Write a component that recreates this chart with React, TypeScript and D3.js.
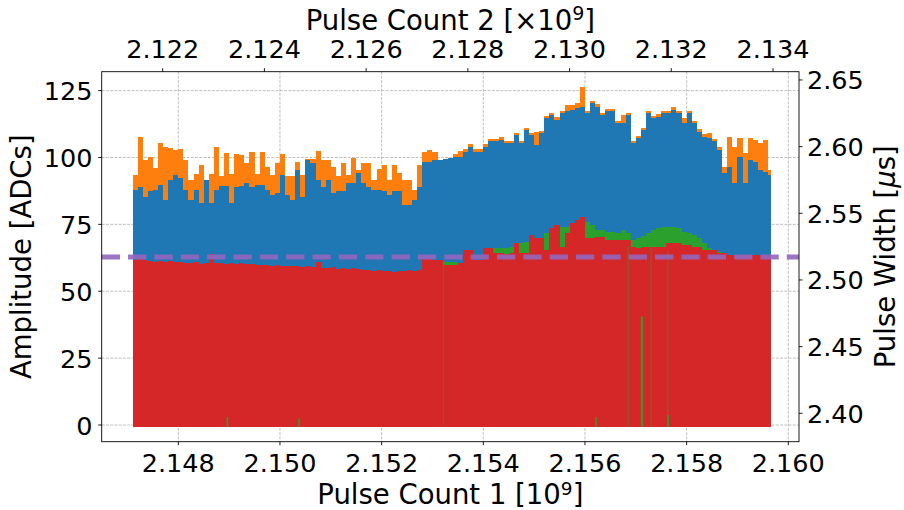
import React from 'react';
import * as d3 from 'd3';

// ---- data ----
const pulseCount1 = [
  2.1471, 2.1472, 2.1473, 2.1474, 2.1475, 2.1476, 2.1477, 2.1478, 2.1479, 2.1480,
  2.1481, 2.1482, 2.1483, 2.1484, 2.1485, 2.1486, 2.1487, 2.1488, 2.1489, 2.1490,
  2.1491, 2.1492, 2.1493, 2.1494, 2.1495, 2.1496, 2.1497, 2.1498, 2.1499, 2.1500,
  2.1501, 2.1502, 2.1503, 2.1504, 2.1505, 2.1506, 2.1507, 2.1508, 2.1509, 2.1510,
  2.1511, 2.1512, 2.1513, 2.1514, 2.1515, 2.1516, 2.1517, 2.1518, 2.1519, 2.1520,
  2.1521, 2.1522, 2.1523, 2.1524, 2.1525, 2.1526, 2.1527, 2.1528, 2.1529, 2.1530,
  2.1531, 2.1532, 2.1533, 2.1534, 2.1535, 2.1536, 2.1537, 2.1538, 2.1539, 2.1540,
  2.1541, 2.1542, 2.1543, 2.1544, 2.1545, 2.1546, 2.1547, 2.1548, 2.1549, 2.1550,
  2.1551, 2.1552, 2.1553, 2.1554, 2.1555, 2.1556, 2.1557, 2.1558, 2.1559, 2.1560,
  2.1561, 2.1562, 2.1563, 2.1564, 2.1565, 2.1566, 2.1567, 2.1568, 2.1569, 2.1570,
  2.1571, 2.1572, 2.1573, 2.1574, 2.1575, 2.1576, 2.1577, 2.1578, 2.1579, 2.1580,
  2.1581, 2.1582, 2.1583, 2.1584, 2.1585, 2.1586, 2.1587, 2.1588, 2.1589, 2.1590,
  2.1591, 2.1592, 2.1593, 2.1594, 2.1595, 2.1596,
];
const dataEnd = 2.15965;

const orangeAmp = [
  93.5, 107.8, 99.1, 100.3, 96, 105.3, 104, 103.5, 102.8, 103,
  99, 91.6, 94, 97.2, 91.6, 94, 104, 92.9, 101.8, 94,
  101.3, 101, 97.9, 102.2, 94, 102.2, 96.6, 93.5, 97.9, 101.3,
  92.9, 92.9, 98.5, 93.5, 99.3, 99.3, 102.6, 99.1, 99.1, 96.6,
  92.9, 97.9, 93.5, 99.7, 95.4, 97.9, 97.9, 91.6, 95.6, 97.2,
  91.6, 97.2, 94.1, 91.6, 91.6, 87.9, 97.2, 102.2, 102.8, 102.2,
  99.1, 99.1, 99.1, 101.2, 102.5, 103, 105, 103, 103, 105,
  107, 107, 107.5, 106.2, 106.2, 109.3, 106.2, 111.2, 109.3, 109.7,
  110, 115.6, 116.8, 115, 117.5, 119.6, 119.6, 120.3, 126.3, 117.4,
  121.2, 120, 116.8, 118.1, 118.1, 113.7, 115.9, 116.8, 106.2, 108,
  111.2, 117.4, 115.6, 116.2, 117.4, 117.4, 118.7, 117.4, 114.7, 117.4,
  113.7, 110.6, 108.7, 109.1, 107, 104, 96.6, 107.8, 104, 107.2,
  101.6, 107.2, 106.6, 105.3, 106.6, 95.3,
];

const blueAmp = [
  87.9, 89.1, 85.4, 87.3, 87.9, 89.7, 84.1, 91.6, 93.5, 92.2,
  87.9, 84.1, 87.9, 82.9, 91.6, 82.9, 87.9, 89.4, 89.4, 82.9,
  89.1, 89.4, 90.4, 89.1, 89.7, 89.7, 87.9, 86, 86.6, 93.5,
  86, 84.1, 95.4, 85.4, 99.1, 97.9, 91.6, 89.1, 91.6, 86.6,
  87.3, 87.3, 90.4, 90.4, 94.1, 90.4, 89.1, 87.9, 87.9, 87.3,
  86, 87.3, 87.3, 82.3, 82.3, 84.1, 89.1, 98.5, 98.5, 99.1,
  99.1, 99.3, 99.7, 100.3, 100.3, 102.2, 104.1, 102.2, 102.2, 104.1,
  106, 106, 106.6, 105.3, 105.3, 108.4, 105.3, 110.3, 108.4, 104.7,
  109.1, 114.7, 115.9, 114, 116.5, 117.2, 117.8, 118.4, 119, 116.5,
  120.3, 119, 115.9, 117.2, 117.2, 112.8, 113, 115.9, 105.3, 107.2,
  110.3, 116.5, 114.7, 115.3, 116.5, 116.5, 117.8, 116.5, 112.8, 116.5,
  112.8, 109.7, 107.8, 107.2, 106, 102.8, 94.1, 96.6, 90.4, 100.3,
  90.4, 99.1, 98.5, 95.3, 94.7, 93.5,
];

const greenAmp = [
  60.2, 60.4, 60.0, 59.8, 59.6, 59.9, 59.5, 59.7, 59.4, 59.6,
  59.2, 59.0, 59.3, 58.8, 59.1, 59.5, 58.9, 59.1, 58.7, 59.0,
  58.6, 58.9, 58.5, 58.8, 58.4, 58.2, 58.4, 58.0, 58.3, 57.9,
  58.1, 57.8, 58.0, 57.7, 57.9, 57.5, 58.3, 57.3, 57.1, 57.4,
  57.0, 57.2, 56.9, 57.1, 56.7, 56.4, 56.6, 56.1, 56.4, 56.0,
  56.2, 55.8, 56.1, 55.9, 56.3, 56.0, 56.5, 60.4, 60.5, 60.3,
  60.2, 61.1, 61.1, 60.8, 59.5, 64.0, 64.0, 61.0, 61.0, 65.0,
  65.0, 66.0, 66.0, 66.0, 66.6, 67.9, 67.9, 68.5, 70.0, 69.8,
  69.8, 71.6, 72.5, 73.5, 74.0, 74.0, 74.6, 75.5, 76.5, 76.0,
  74.8, 72.8, 72.8, 72.2, 72.2, 71.6, 72.8, 71.6, 69.2, 69.8,
  70.5, 71.6, 73.0, 73.5, 74.0, 74.0, 74.0, 73.5, 72.0, 71.6,
  71.0, 70.0, 67.9, 66.0, 65.4, 64.5, 63.6, 63.0, 63.0, 63.0,
  62.5, 62.5, 62.5, 62.5, 62.5, 62.5,
];

const redAmp = [
  61.7, 61.9, 61.5, 61.3, 61.1, 61.4, 61.0, 61.2, 60.9, 61.1,
  60.7, 60.5, 60.8, 60.3, 60.6, 64.0, 60.4, 60.6, 60.2, 60.5,
  60.1, 60.4, 60.0, 60.3, 59.9, 59.7, 59.9, 59.5, 59.8, 59.4,
  59.6, 59.3, 59.5, 59.2, 59.4, 59.0, 60.8, 58.8, 58.6, 58.9,
  58.5, 58.7, 58.4, 58.6, 58.2, 57.9, 58.1, 57.6, 57.9, 57.5,
  57.7, 57.3, 57.6, 57.4, 57.8, 57.5, 58.0, 61.9, 62.0, 61.8,
  61.7, 59.9, 59.9, 59.9, 60.4, 65.4, 65.4, 61.7, 61.7, 66.0,
  66.0, 64.2, 64.2, 64.0, 64.2, 67.9, 64.2, 64.2, 71.0, 69.8,
  69.8, 65.4, 73.5, 74.8, 66.6, 71.6, 75.4, 76.6, 77.9, 69.8,
  69.8, 70.4, 70.4, 69.2, 69.2, 69.2, 69.2, 69.2, 66.7, 66.2,
  66.7, 66.7, 66.7, 66.7, 66.7, 67.9, 67.9, 67.9, 67.3, 67.3,
  66.7, 66.7, 65.4, 65.4, 65.4, 64.2, 64.2, 63.6, 63.6, 63.6,
  63.6, 63.6, 63.6, 63.6, 63.6, 63.6,
];

// short dropouts of the red trace, where the green trace shows through
const redGapX = [2.14895, 2.15036, 2.15321, 2.1562, 2.15684, 2.1571, 2.15729, 2.15762, 2.15762];
const redGapTop = [3.0, 2.5, 60.5, 3.0, 67.0, 40.5, 66.5, 65.0, 3.7];
const redGapWidth = [0.00003, 0.00003, 0.00002, 0.00003, 0.00002, 0.00004, 0.00002, 0.00002, 0.00003];

const pulseWidthThreshold = 2.5172;

const bottomTicks = [2.148, 2.15, 2.152, 2.154, 2.156, 2.158, 2.16];
const topTicks = [2.122, 2.124, 2.126, 2.128, 2.13, 2.132, 2.134];
const leftTicks = [0, 25, 50, 75, 100, 125];
const rightTicks = [2.4, 2.45, 2.5, 2.55, 2.6, 2.65];

// ---- layout ----
const W = 904;
const H = 510;
const L = 101.7;
const R = 799;
const T = 71.7;
const B = 441.7;
const FONT = 'DejaVu Sans, Verdana, sans-serif';
const TICK_FS = 25.5;
const LABEL_FS = 27.5;

export default function App() {
  const x1 = d3.scaleLinear().domain([2.1464931, 2.1602105]).range([L, R]);
  const x2 = d3.scaleLinear().domain([2.1208006, 2.134511]).range([L, R]);
  const yL = d3.scaleLinear().domain([-6.24, 132.07]).range([B, T]);
  const yR = d3.scaleLinear().domain([2.3787, 2.6562]).range([B, T]);

  const xsExt = [...pulseCount1, dataEnd];
  const areaPath = (vals: number[]) => {
    const v = [...vals, vals[vals.length - 1]];
    return (
      d3
        .area<number>()
        .x((_, i) => x1(xsExt[i]))
        .y0(yL(-0.6))
        .y1((d) => yL(d))
        .curve(d3.curveStepAfter)(v) || ''
    );
  };

  const series = [
    { vals: orangeAmp, color: '#ff7f0e' },
    { vals: blueAmp, color: '#1f77b4' },
    { vals: greenAmp, color: '#2ca02c' },
    { vals: redAmp, color: '#d62728' },
  ];

  const thrY = yR(pulseWidthThreshold);

  return (
    <svg
      width={W}
      height={H}
      viewBox={`0 0 ${W} ${H}`}
      style={{ position: 'absolute', left: 0, top: 0, background: '#fff' }}
      fontFamily={FONT}
    >
      <rect x={0} y={0} width={W} height={H} fill="#fff" />
      {/* grid */}
      <g stroke="#b0b0b0" strokeWidth={0.8} strokeDasharray="2.96,1.28" fill="none">
        {leftTicks.map((t) => (
          <line key={'gh' + t} x1={L} x2={R} y1={yL(t)} y2={yL(t)} />
        ))}
        {bottomTicks.map((t) => (
          <line key={'gv' + t} x1={x1(t)} x2={x1(t)} y1={T} y2={B} />
        ))}
      </g>

      {/* traces */}
      {series.map((s, k) => (
        <path
          key={'s' + k}
          d={areaPath(s.vals)}
          fill={s.color}
          stroke="none"
          shapeRendering="crispEdges"
        />
      ))}
      {redGapX.map((gx, k) => {
        const wpx = x1(gx + redGapWidth[k]) - x1(gx);
        return (
          <rect
            key={'gap' + k}
            x={x1(gx)}
            width={wpx}
            y={yL(redGapTop[k])}
            height={yL(-0.6) - yL(redGapTop[k])}
            fill="#2ca02c"
            opacity={redGapWidth[k] <= 0.00002 ? 0.55 : 1}
          />
        );
      })}

      {/* threshold line */}
      <line
        x1={L}
        x2={R}
        y1={thrY}
        y2={thrY}
        stroke="#9467bd"
        strokeWidth={5}
        strokeDasharray="18.3,8.05"
        opacity={0.9}
      />

      {/* spines */}
      <rect x={L} y={T} width={R - L} height={B - T} fill="none" stroke="#000" strokeWidth={0.9} />

      {/* ticks */}
      <g stroke="#000" strokeWidth={0.9}>
        {bottomTicks.map((t) => (
          <line key={'bt' + t} x1={x1(t)} x2={x1(t)} y1={B} y2={B + 3.5} />
        ))}
        {topTicks.map((t) => (
          <line key={'tt' + t} x1={x2(t)} x2={x2(t)} y1={T} y2={T - 3.5} />
        ))}
        {leftTicks.map((t) => (
          <line key={'lt' + t} x1={L} x2={L - 3.5} y1={yL(t)} y2={yL(t)} />
        ))}
        {rightTicks.map((t) => (
          <line key={'rt' + t} x1={R} x2={R + 3.5} y1={yR(t)} y2={yR(t)} />
        ))}
      </g>

      {/* tick labels */}
      <g fontSize={TICK_FS} fill="#000">
        {bottomTicks.map((t) => (
          <text key={'bl' + t} x={x1(t)} y={B + 30} textAnchor="middle">
            {t.toFixed(3)}
          </text>
        ))}
        {topTicks.map((t) => (
          <text key={'tl' + t} x={x2(t)} y={T - 13.4} textAnchor="middle">
            {t.toFixed(3)}
          </text>
        ))}
        {leftTicks.map((t) => (
          <text key={'ll' + t} x={92.5} y={yL(t) + 9.5} textAnchor="end">
            {String(t)}
          </text>
        ))}
        {rightTicks.map((t) => (
          <text key={'rl' + t} x={807} y={yR(t) + 9.5} textAnchor="start">
            {t.toFixed(2)}
          </text>
        ))}
      </g>

      {/* axis labels */}
      <g fontSize={LABEL_FS} fill="#000">
        <text x={(L + R) / 2} y={30} textAnchor="middle">
          Pulse Count 2 [×10
          <tspan dy={-10} fontSize={19}>9</tspan>
          <tspan dy={10}>]</tspan>
        </text>
        <text x={(L + R) / 2} y={504} textAnchor="middle">
          Pulse Count 1 [10
          <tspan dy={-9.5} fontSize={18.5}>9</tspan>
          <tspan dy={9.5}>]</tspan>
        </text>
        <text transform={`translate(31, ${(T + B) / 2}) rotate(-90)`} textAnchor="middle">
          Amplitude [ADCs]
        </text>
        <text transform={`translate(895, ${(T + B) / 2}) rotate(-90)`} textAnchor="middle">
          Pulse Width [<tspan fontStyle="italic">μ</tspan>s]
        </text>
      </g>
    </svg>
  );
}
